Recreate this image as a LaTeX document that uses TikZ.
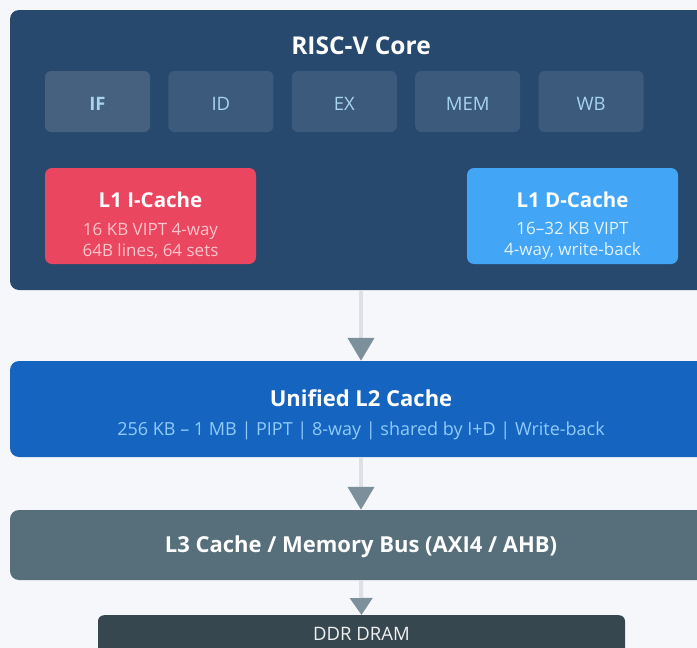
\documentclass[tikz,border=0pt]{standalone}
\usepackage{fontspec}
\setmainfont{Open Sans}
\usetikzlibrary{arrows.meta,positioning}
\definecolor{pagebg}{HTML}{F5F7FA}
\definecolor{corebg}{HTML}{27496D}
\definecolor{stagebg}{HTML}{3B5A7C}
\definecolor{stageif}{HTML}{46617F}
\definecolor{stagetxt}{HTML}{A8D4EE}
\definecolor{icachebg}{HTML}{EA4660}
\definecolor{icachetxt}{HTML}{FFC4CC}
\definecolor{dcachebg}{HTML}{42A5F5}
\definecolor{dcachetxt}{HTML}{E3F2FD}
\definecolor{ltwobg}{HTML}{1565C0}
\definecolor{ltwotxt}{HTML}{90CAF9}
\definecolor{lthreebg}{HTML}{566F7B}
\definecolor{drambg}{HTML}{37474F}
\definecolor{linkline}{HTML}{DDE1E6}
\definecolor{linkhead}{HTML}{7B909B}
\tikzset{
  level/.style={rounded corners=9pt, inner sep=0pt, align=center, text=white},
  stagebox/.style={rounded corners=6pt, fill=stagebg, minimum width=105pt,
    minimum height=61pt, inner sep=0pt, text height=18pt, text=stagetxt,
    font=\fontsize{18.5}{20}\selectfont},
  cachebox/.style={rounded corners=7pt, minimum width=211pt, minimum height=96pt,
    inner sep=0pt, align=center, text=white},
  link/.style={linkline, line width=4pt,
    -{Triangle[color=linkhead, width=26pt, length=23pt]}},
}
\begin{document}
\begin{tikzpicture}[x=1pt, y=-1pt]
  \useasboundingbox [fill=pagebg] (0,0) rectangle (697,648);

  % core
  \node [level, fill=corebg, minimum width=702pt, minimum height=280pt] (core) at (361,150) {};
  \node [text=white, font=\fontsize{24.5}{26}\selectfont\bfseries] (coretitle) at (361,45.5) {RISC-V Core};

  % pipeline stages
  \node [stagebox, fill=stageif, font=\fontsize{18.5}{20}\selectfont\bfseries] (stIF) at (97.5,101.5) {IF};
  \node [stagebox, right=18pt of stIF] (stID) {ID};
  \node [stagebox, right=18pt of stID] (stEX) {EX};
  \node [stagebox, right=18pt of stEX] (stMEM) {MEM};
  \node [stagebox, right=18pt of stMEM] (stWB) {WB};

  % L1 caches
  \node [cachebox, fill=icachebg] (icache) at (150.5,216) {};
  \node [text=white, font=\fontsize{20.5}{22}\selectfont\bfseries] at (150.5,199.5) {L1 I-Cache};
  \node [text=icachetxt, font=\fontsize{17}{21}\selectfont, align=center] at (150.5,240.5)
    {16 KB VIPT 4-way\\64B lines, 64 sets};

  \node [cachebox, fill=dcachebg] (dcache) at (572.5,216) {};
  \node [text=white, font=\fontsize{20.5}{22}\selectfont\bfseries] at (572.5,199.5) {L1 D-Cache};
  \node [text=dcachetxt, font=\fontsize{17}{21}\selectfont, align=center] at (572.5,240.5)
    {16--32 KB VIPT\\4-way, write-back};

  % L2
  \node [level, fill=ltwobg, minimum width=702pt, minimum height=96pt] (ltwo) at (361,409) {};
  \node [text=white, font=\fontsize{22}{24}\selectfont\bfseries] at (361,398) {Unified L2 Cache};
  \node [text=ltwotxt, font=\fontsize{18}{20}\selectfont] at (361,431)
    {256 KB -- 1 MB | PIPT | 8-way | shared by I+D | Write-back};

  % L3 / bus
  \node [level, fill=lthreebg, minimum width=702pt, minimum height=70pt] (lthree) at (361,545) {};
  \node [text=white, font=\fontsize{22}{24}\selectfont\bfseries] at (361,547)
    {L3 Cache / Memory Bus (AXI4 / AHB)};

  % DRAM
  \node [rounded corners=6pt, fill=drambg, minimum width=527pt, minimum height=50pt,
    inner sep=0pt, anchor=north] (dram) at (361.5,615) {};
  \node [text=white!92!drambg, font=\fontsize{18.5}{20}\selectfont] at (361.5,634) {DDR DRAM};

  % links
  \draw [link] (core.south) -- (ltwo.north);
  \draw [link] (ltwo.south) -- (lthree.north);
  \draw [link, -{Triangle[color=linkhead, width=22pt, length=17pt]}] (lthree.south) -- (dram.north);
\end{tikzpicture}
\end{document}
